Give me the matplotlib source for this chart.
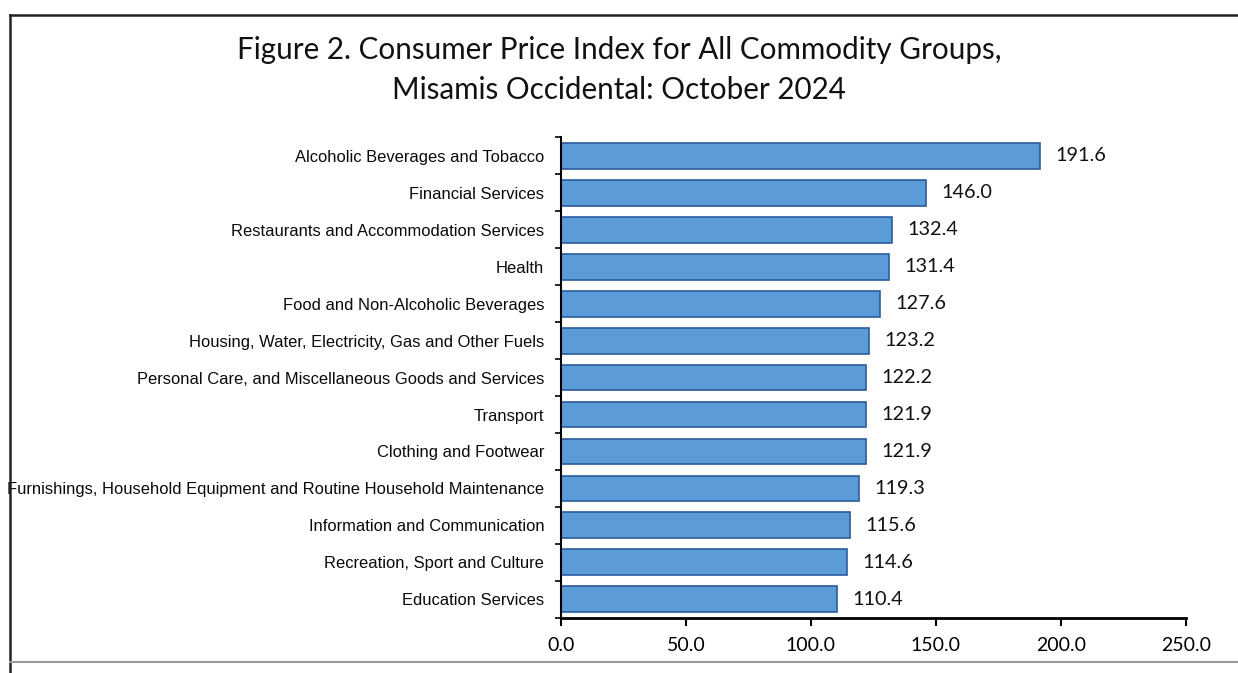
import numpy as np
import matplotlib
matplotlib.use("Agg")
import matplotlib.pyplot as plt
from matplotlib.lines import Line2D

categories = [
    "Alcoholic Beverages and Tobacco",
    "Financial Services",
    "Restaurants and Accommodation Services",
    "Health",
    "Food and Non-Alcoholic Beverages",
    "Housing, Water, Electricity, Gas and Other Fuels",
    "Personal Care, and Miscellaneous Goods and Services",
    "Transport",
    "Clothing and Footwear",
    "Furnishings, Household Equipment and Routine Household Maintenance",
    "Information and Communication",
    "Recreation, Sport and Culture",
    "Education Services",
]
values = [191.6, 146.0, 132.4, 131.4, 127.6, 123.2, 122.2, 121.9, 121.9, 119.3, 115.6, 114.6, 110.4]
xticks = [0, 50, 100, 150, 200, 250]

num_font = ["Lato", "DejaVu Sans"]

fig = plt.figure(figsize=(12.38, 6.73), dpi=100)
ax = fig.add_axes([0.453, 0.082, 0.505, 0.714])

y = np.arange(len(categories))
bars = ax.barh(y, values, height=0.7, color="#5b9bd8", edgecolor="#2b5c9c", linewidth=1.2)
ax.set_ylim(len(categories) - 0.5, -0.5)
ax.set_xlim(0, 250)

for yi, v in zip(y, values):
    ax.annotate(f"{v:.1f}", (v, yi), xytext=(11, 0), textcoords="offset points",
                va="center", ha="left", fontsize=14.3, family=num_font, color="#111111")

ax.set_yticks(y)
ax.set_yticklabels(categories, fontsize=11.9, family=["Liberation Sans", "DejaVu Sans"], color="#0a0a0a")
ax.set_yticks(np.arange(-0.5, len(categories)), minor=True)
ax.tick_params(axis="y", which="major", length=0, pad=12)
ax.tick_params(axis="y", which="minor", length=4, width=1.2, direction="out")
ax.set_xticks(xticks)
ax.set_xticklabels([f"{t:.1f}" for t in xticks], fontsize=14, family=num_font)
ax.tick_params(axis="x", length=6, width=1.5, direction="out", pad=8)

for s in ["top", "right"]:
    ax.spines[s].set_visible(False)
ax.spines["left"].set_linewidth(1.5)
ax.spines["bottom"].set_linewidth(2)

fig.text(0.5, 0.926, "Figure 2. Consumer Price Index for All Commodity Groups,",
         ha="center", va="center", fontsize=21.3, family=num_font, color="#111111")
fig.text(0.5, 0.867, "Misamis Occidental: October 2024",
         ha="center", va="center", fontsize=21.3, family=num_font, color="#111111")

# page frame from the scanned document
fig.add_artist(Line2D([0.008, 1.0], [0.978, 0.978], color="#222222", linewidth=1.8, transform=fig.transFigure))
fig.add_artist(Line2D([0.008, 0.008], [0.0, 0.978], color="#222222", linewidth=1.8, transform=fig.transFigure))
fig.add_artist(Line2D([0.008, 1.0], [0.016, 0.016], color="#999999", linewidth=1.5, transform=fig.transFigure))

fig.savefig("out.png", dpi=100)
